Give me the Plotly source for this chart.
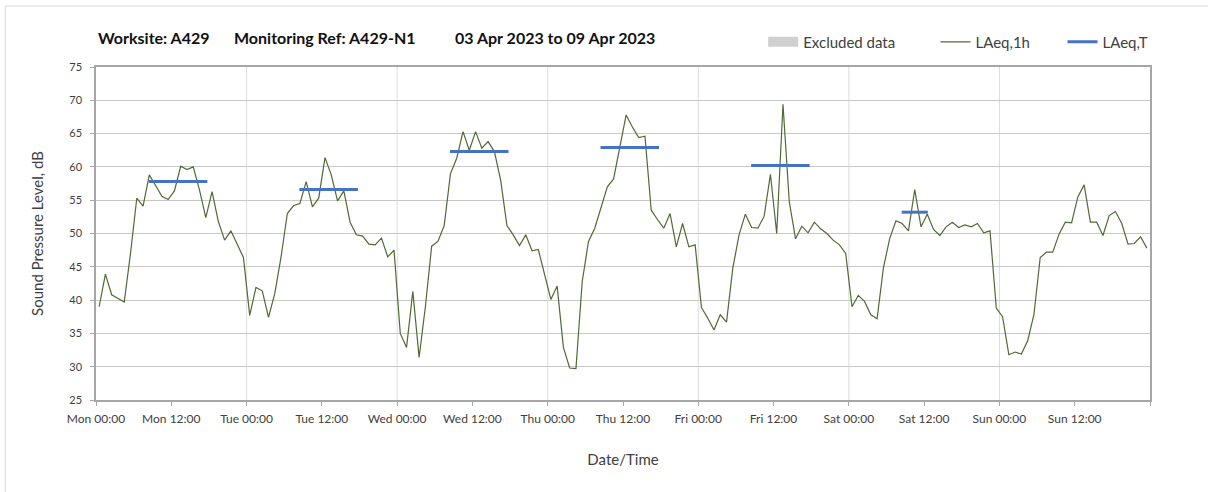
import pandas as pd
import plotly.graph_objects as go

# hourly LAeq,1h values, 03 Apr 2023 00:00 .. 09 Apr 2023 23:00
mon = [39.0, 43.9, 40.8, 40.3, 39.7, 47.0, 55.3, 54.1, 58.8, 57.2, 55.6, 55.1,
       56.4, 60.1, 59.6, 60.0, 56.5, 52.4, 56.3, 51.8, 49.0, 50.4, 48.3, 46.4]
tue = [37.7, 41.9, 41.4, 37.4, 41.0, 46.5, 53.0, 54.2, 54.5, 57.8, 54.0, 55.3,
       61.4, 58.8, 54.9, 56.4, 51.7, 49.8, 49.6, 48.4, 48.3, 49.3, 46.5, 47.5]
wed = [35.0, 32.9, 41.3, 31.4, 39.0, 48.1, 48.8, 51.2, 59.0, 61.3, 65.3, 62.5,
       65.3, 62.8, 63.8, 62.3, 58.0, 51.2, 49.8, 48.2, 49.8, 47.4, 47.6, 44.0]
thu = [40.1, 42.1, 32.9, 29.8, 29.7, 42.8, 48.8, 50.8, 54.0, 57.0, 58.2, 62.8,
       67.8, 66.0, 64.4, 64.6, 53.5, 52.1, 50.8, 53.0, 48.0, 51.5, 48.0, 48.3]
fri = [38.9, 37.3, 35.5, 37.8, 36.7, 44.8, 49.8, 52.9, 50.9, 50.8, 52.6, 58.9,
       50.0, 69.4, 54.8, 49.2, 51.1, 50.1, 51.7, 50.7, 50.0, 49.0, 48.3, 47.0]
sat = [39.0, 40.7, 39.8, 37.8, 37.2, 44.8, 49.2, 51.9, 51.5, 50.4, 56.6, 51.0,
       52.9, 50.6, 49.7, 51.0, 51.7, 50.9, 51.3, 51.0, 51.5, 50.1, 50.4, 38.8]
sun = [37.5, 31.8, 32.2, 31.9, 33.9, 37.8, 46.4, 47.2, 47.2, 49.9, 51.7, 51.6,
       55.5, 57.3, 51.7, 51.7, 49.7, 52.7, 53.3, 51.5, 48.4, 48.5, 49.5, 47.8]
laeq_1h = mon + tue + wed + thu + fri + sat + sun
times = pd.date_range("2023-04-03 00:30", periods=len(laeq_1h), freq="h")

# LAeq,T over the working periods
t_start = ["2023-04-03 08:25", "2023-04-04 08:25", "2023-04-05 08:25",
           "2023-04-06 08:25", "2023-04-07 08:25", "2023-04-08 08:25"]
t_end = ["2023-04-03 17:45", "2023-04-04 17:45", "2023-04-05 17:45",
         "2023-04-06 17:45", "2023-04-07 17:45", "2023-04-08 12:35"]
laeq_t = [57.8, 56.6, 62.3, 62.9, 60.2, 53.2]

tick_times = pd.date_range("2023-04-03", periods=14, freq="12h")
tick_text = [t.strftime("%a %H:%M") for t in tick_times]
day_lines = pd.date_range("2023-04-04", periods=6, freq="D")

FONT = "Lato"
TXT = "#404040"

bx, by = [], []
for s, e, v in zip(t_start, t_end, laeq_t):
    bx += [s, e, None]
    by += [v, v, None]

fig = go.Figure()
# legend-only entry: single point above the visible range
fig.add_trace(go.Scatter(x=[times[0]], y=[90], mode="lines", name="Excluded data",
                         line=dict(color="#d0d0d0", width=11), legend="legend"))
fig.add_trace(go.Scatter(x=times, y=laeq_1h, mode="lines", name="LAeq,1h",
                         line=dict(color="#4f6b33", width=1.2), legend="legend2"))
fig.add_trace(go.Scatter(x=bx, y=by, mode="lines", name="LAeq,T",
                         line=dict(color="#4472c4", width=3), legend="legend3"))

shapes = []
for d in day_lines:
    shapes.append(dict(type="line", xref="x", yref="paper", x0=d, x1=d, y0=0, y1=1,
                       line=dict(color="#dcdcdc", width=1), layer="below"))
# outer frame
shapes.append(dict(type="rect", xref="paper", yref="paper", x0=-0.086, x1=1.3,
                   y0=-0.5, y1=1.183, line=dict(color="#d9d9d9", width=1)))

title_parts = ["Worksite: A429", "Monitoring Ref: A429-N1", "03 Apr 2023 to 09 Apr 2023"]
title_x = [0.0, 0.129, 0.339]
annotations = []
for t, xp in zip(title_parts, title_x):
    annotations.append(dict(text="<b>%s</b>" % t, x=xp, y=1.09, xref="paper", yref="paper",
                            xanchor="left", yanchor="middle", showarrow=False,
                            font=dict(family=FONT, size=16, color="#111111")))

leg = dict(orientation="h", yanchor="middle", y=1.075, xanchor="left",
           bgcolor="rgba(0,0,0,0)", font=dict(family=FONT, size=15, color=TXT))

fig.update_layout(
    width=1208, height=492,
    margin=dict(l=96, r=58, t=67, b=92, autoexpand=False),
    paper_bgcolor="white", plot_bgcolor="white",
    font=dict(family=FONT, color=TXT),
    shapes=shapes, annotations=annotations, showlegend=True,
    legend=dict(leg, x=0.633),
    legend2=dict(leg, x=0.7965),
    legend3=dict(leg, x=0.917),
)
fig.update_xaxes(
    type="date", range=["2023-04-03 00:00", "2023-04-10 00:00"],
    tickvals=tick_times, ticktext=tick_text,
    minor=dict(dtick=24 * 3600 * 1000, tick0="2023-04-03", ticks="outside",
               ticklen=4, tickcolor="#a6a6a6", showgrid=False),
    showgrid=False, showline=True, linecolor="#a6a6a6", linewidth=1.5, mirror=True,
    ticks="outside", ticklen=4, tickcolor="#a6a6a6", automargin=False,
    tickfont=dict(family=FONT, size=12, color=TXT), ticklabelstandoff=3,
    title=dict(text="Date/Time", font=dict(family=FONT, size=15, color=TXT), standoff=29),
)
fig.update_yaxes(
    range=[25, 75], dtick=5, showgrid=True, gridcolor="#c8c8c8",
    showline=True, linecolor="#a6a6a6", linewidth=1.5, mirror=True,
    ticks="outside", ticklen=4, tickcolor="#a6a6a6", automargin=False,
    tickfont=dict(family=FONT, size=11, color=TXT), zeroline=False, ticklabelstandoff=6,
    title=dict(text="Sound Pressure Level, dB", font=dict(family=FONT, size=15, color=TXT), standoff=22),
)

fig.write_html("out.html", config={"displayModeBar": False},
               post_script="document.body.style.margin='0';")
